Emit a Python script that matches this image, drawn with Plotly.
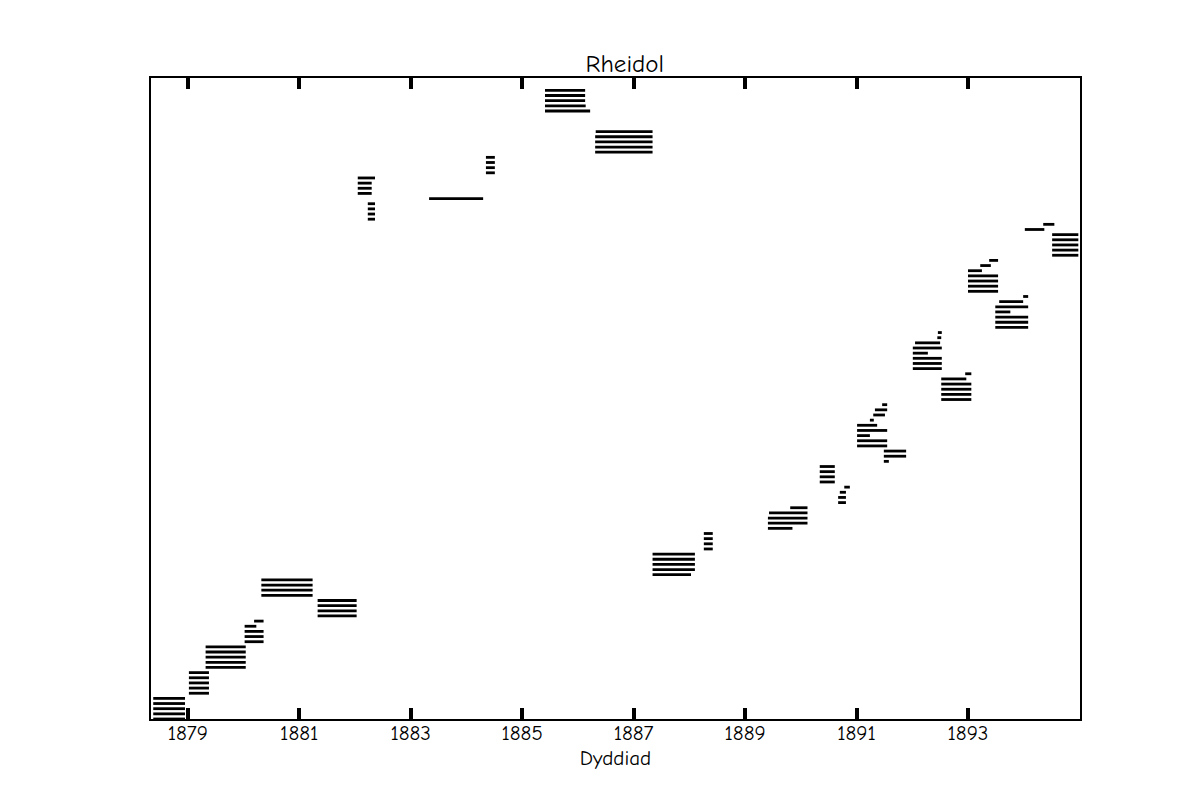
import plotly.graph_objects as go

# Row index (bottom to top) and start / end of each segment, in decimal years
rows = list(range(0, 115)) + [118, 119, 120, 121, 122]

start_year = (
    [1878.38] * 5
    + [1879.02] * 5
    + [1879.32] * 5
    + [1880.02, 1880.02, 1880.02, 1880.02, 1880.19]
    + [1881.33] * 4
    + [1880.32] * 4
    + [1887.34] * 5
    + [1888.26] * 4
    + [1889.41, 1889.41, 1889.41, 1889.43, 1889.81]
    + [1890.67, 1890.67, 1890.70, 1890.78]
    + [1890.34] * 4
    + [1891.49, 1891.49, 1891.49, 1891.01, 1891.01, 1891.01, 1891.01, 1891.01,
       1891.24, 1891.30, 1891.33, 1891.46]
    + [1892.52, 1892.52, 1892.52, 1892.52, 1892.52, 1892.95]
    + [1892.01, 1892.01, 1892.01, 1892.01, 1892.01, 1892.05, 1892.45, 1892.46]
    + [1893.49, 1893.49, 1893.49, 1893.49, 1893.49, 1893.56, 1893.99]
    + [1893.00, 1893.00, 1893.00, 1893.00, 1893.00, 1893.22, 1893.38]
    + [1894.51, 1894.51, 1894.51, 1894.51, 1894.51, 1894.02, 1894.35]
    + [1882.23] * 4
    + [1883.33]
    + [1882.05] * 4
    + [1884.35] * 4
    + [1886.31, 1886.31, 1886.31, 1886.31, 1886.32]
    + [1885.41] * 5
)

end_year = (
    [1878.95] * 5
    + [1879.38] * 5
    + [1880.04] * 5
    + [1880.36, 1880.36, 1880.36, 1880.23, 1880.36]
    + [1882.03] * 4
    + [1881.24] * 4
    + [1888.03, 1888.10, 1888.10, 1888.10, 1888.10]
    + [1888.42] * 4
    + [1889.85, 1890.12, 1890.12, 1890.12, 1890.12]
    + [1890.81, 1890.81, 1890.81, 1890.88]
    + [1890.61] * 4
    + [1891.58, 1891.89, 1891.89, 1891.55, 1891.55, 1891.24, 1891.55, 1891.37,
       1891.31, 1891.51, 1891.55, 1891.55]
    + [1893.06, 1893.06, 1893.06, 1893.06, 1892.97, 1893.06]
    + [1892.53, 1892.53, 1892.53, 1892.28, 1892.53, 1892.50, 1892.52, 1892.53]
    + [1894.08, 1894.08, 1894.08, 1893.76, 1894.08, 1893.99, 1894.08]
    + [1893.54, 1893.54, 1893.54, 1893.54, 1893.25, 1893.41, 1893.54]
    + [1894.98, 1894.98, 1894.98, 1894.98, 1894.98, 1894.37, 1894.55]
    + [1882.36] * 4
    + [1884.30]
    + [1882.30, 1882.30, 1882.30, 1882.36]
    + [1884.51] * 4
    + [1887.34] * 5
    + [1886.22, 1886.14, 1886.13, 1886.13, 1886.13]
)

tick_years = [1879, 1881, 1883, 1885, 1887, 1889, 1891, 1893]
tick_labels = [str(t) for t in tick_years]

xs, ys = [], []
for r, s, e in zip(rows, start_year, end_year):
    xs += [s, e, None]
    ys += [r, r, None]

FONT = "Humor Sans, xkcd, Comic Neue, Comic Sans MS, DejaVu Sans, sans-serif"

fig = go.Figure()
fig.add_trace(go.Scatter(
    x=xs, y=ys, mode="lines",
    line=dict(color="black", width=2.8),
    hoverinfo="skip", showlegend=False,
))

fig.update_layout(
    width=1200, height=800,
    margin=dict(l=143, r=128, t=70, b=89),
    paper_bgcolor="white", plot_bgcolor="white",
    font=dict(family=FONT, size=21, color="black"),
    title=dict(text="Rheidol", x=0.514, xanchor="center", y=0.931, yanchor="middle",
               font=dict(family=FONT, size=25, color="black")),
)
fig.update_xaxes(
    range=[1878.34, 1895.01],
    tickvals=tick_years, ticktext=tick_labels,
    ticks="inside", ticklen=11, tickwidth=4, tickcolor="black",
    ticklabelstandoff=-6,
    showline=True, linewidth=2, linecolor="black", mirror="ticks",
    showgrid=False, zeroline=False,
    tickfont=dict(family=FONT, size=21),
    title=dict(text="Dyddiad", standoff=6, font=dict(family=FONT, size=21)),
)
fig.update_yaxes(
    range=[0, 124.4],
    showticklabels=False, ticks="",
    showline=True, linewidth=2, linecolor="black", mirror=True,
    showgrid=False, zeroline=False,
)

fig.write_html("out.html")
